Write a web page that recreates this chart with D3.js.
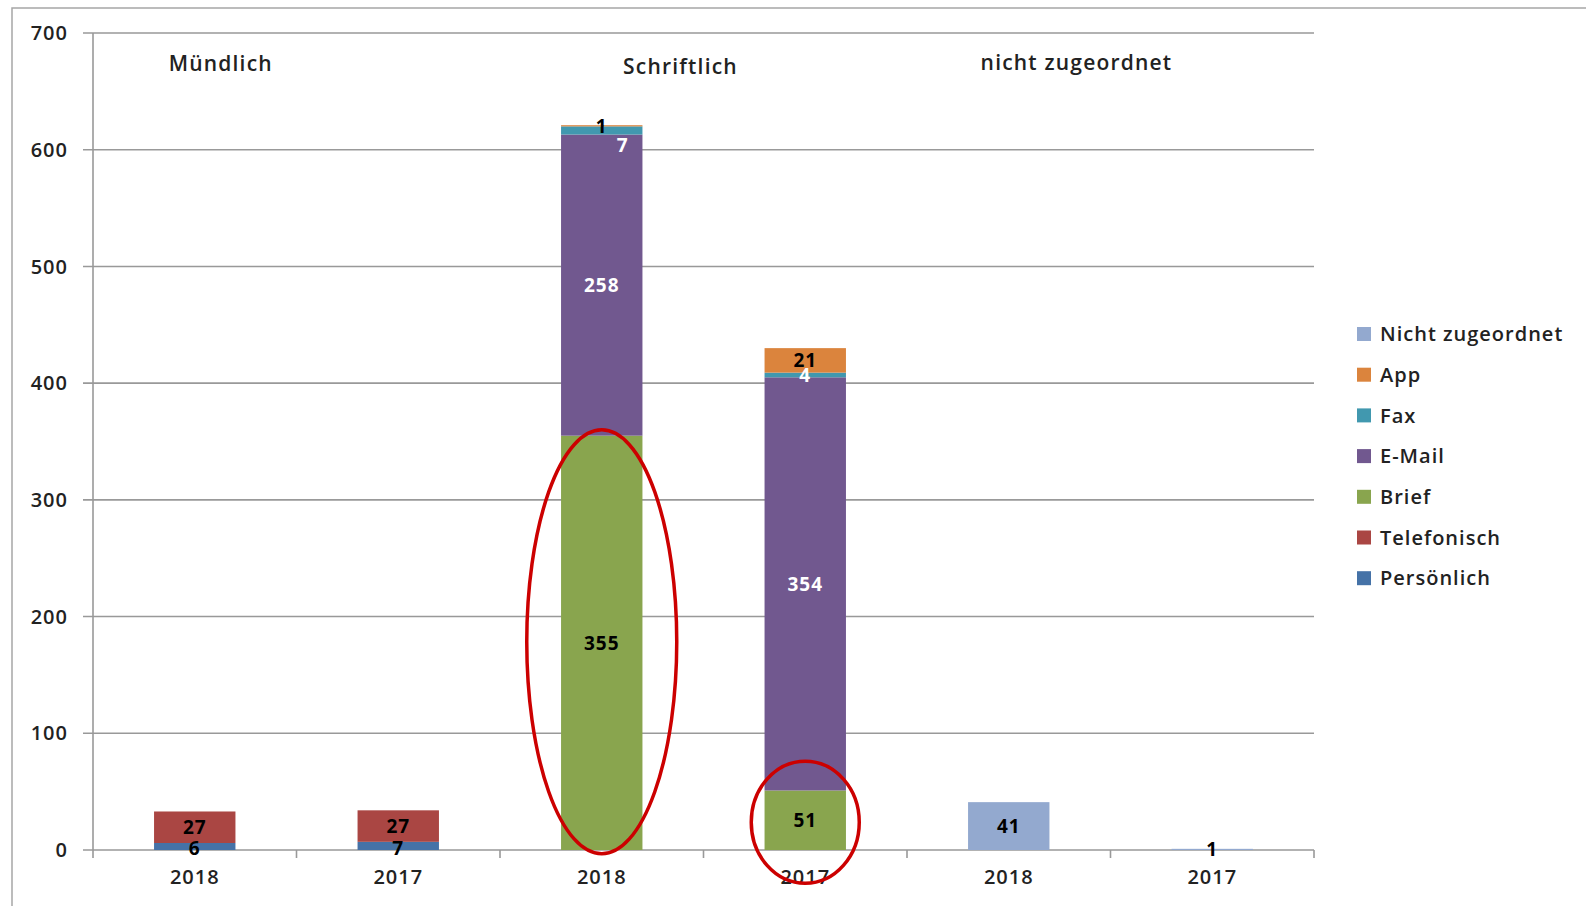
<!DOCTYPE html>
<html><head><meta charset="utf-8">
<script src="https://cdn.jsdelivr.net/npm/d3@7"></script>
<style>
html,body{margin:0;padding:0;background:#fff;}
svg{display:block;font-family:"Open Sans",sans-serif;}
</style></head>
<body><svg id="c" width="1586" height="906"></svg>
<script>
// ---- data ----
const groups = ["Mündlich", "Schriftlich", "nicht zugeordnet"];
const categories = ["M2018", "M2017", "S2018", "S2017", "N2018", "N2017"];
const tickLabels = ["2018", "2017", "2018", "2017", "2018", "2017"];
const seriesNames = ["Persönlich", "Telefonisch", "Brief", "E-Mail", "Fax", "App", "Nicht zugeordnet"];
const seriesColors = ["#4572A7", "#AA4643", "#89A54E", "#71588F", "#4198AF", "#DB843D", "#93A9CF"];
const persoenlich = [6, 7, 0, 0, 0, 0];
const telefonisch = [27, 27, 0, 0, 0, 0];
const brief = [0, 0, 355, 51, 0, 0];
const email = [0, 0, 258, 354, 0, 0];
const fax = [0, 0, 7, 4, 0, 0];
const app = [0, 0, 1, 21, 0, 0];
const nichtZugeordnet = [0, 0, 0, 0, 41, 1];
const yTicks = [0, 100, 200, 300, 400, 500, 600, 700];

const seriesValues = [persoenlich, telefonisch, brief, email, fax, app, nichtZugeordnet];
const whiteLabelSeries = new Set(["E-Mail", "Fax"]);

// ---- layout ----
const svg = d3.select("#c");
const L = 93, R = 1314, T = 33, B = 850;
const TXT = "#222";

// outer frame
svg.append("rect").attr("x", 12).attr("y", 8).attr("width", 1600).attr("height", 950)
  .attr("fill", "none").attr("stroke", "#a6a6a6").attr("stroke-width", 1.5);

const x = d3.scaleBand().domain(categories).range([L, R]).paddingInner(0.6).paddingOuter(0.3);
const y = d3.scaleLinear().domain([0, 700]).range([B, T]);

// gridlines
svg.append("g").selectAll("line").data(yTicks).join("line")
  .attr("x1", L - 10).attr("x2", R).attr("y1", d => y(d)).attr("y2", d => y(d))
  .attr("stroke", "#999").attr("stroke-width", 1.6);

// y axis line
svg.append("line").attr("x1", L).attr("x2", L).attr("y1", T).attr("y2", B)
  .attr("stroke", "#999").attr("stroke-width", 1.6);

// y tick labels
svg.append("g").selectAll("text").data(yTicks).join("text")
  .attr("x", 68).attr("y", d => y(d)).attr("text-anchor", "end").attr("dy", "0.36em")
  .attr("font-size", 20).attr("font-weight", 600).attr("letter-spacing", 1)
  .attr("fill", TXT).text(d => d);

// x category boundary ticks
const step = x.step();
svg.append("g").selectAll("line").data(d3.range(categories.length + 1)).join("line")
  .attr("x1", i => L + i * step).attr("x2", i => L + i * step)
  .attr("y1", B).attr("y2", B + 8).attr("stroke", "#999").attr("stroke-width", 1.6);

// x labels
svg.append("g").selectAll("text").data(categories).join("text")
  .attr("x", d => x(d) + x.bandwidth() / 2).attr("y", 877).attr("dy", "0.36em")
  .attr("text-anchor", "middle").attr("font-size", 20).attr("font-weight", 600)
  .attr("letter-spacing", 1).attr("fill", TXT)
  .text((d, i) => tickLabels[i]);

// stacked data
const table = categories.map((c, i) => {
  const o = {cat: c};
  seriesNames.forEach((s, j) => o[s] = seriesValues[j][i]);
  return o;
});
const stack = d3.stack().keys(seriesNames)(table);

const gBars = svg.append("g");
stack.forEach((layer, j) => {
  gBars.append("g").attr("fill", seriesColors[j]).selectAll("rect")
    .data(layer.filter(d => d[1] - d[0] > 0)).join("rect")
    .attr("x", d => x(d.data.cat)).attr("width", x.bandwidth())
    .attr("y", d => y(d[1])).attr("height", d => y(d[0]) - y(d[1]));
});

// data labels
const gLab = svg.append("g");
stack.forEach((layer, j) => {
  const name = seriesNames[j];
  layer.filter(d => d[1] - d[0] > 0).forEach(d => {
    let cx = x(d.data.cat) + x.bandwidth() / 2;
    let cy = y((d[0] + d[1]) / 2);
    // Excel-style shift to avoid overlapping the small label above
    if (name === "Fax" && d.data.cat === "S2018") { cx += 21; cy += 15; }
    if (name === "Persönlich") { cy += 2; }
    gLab.append("text").attr("x", cx).attr("y", cy).attr("dy", "0.36em")
      .attr("text-anchor", "middle").attr("font-size", 19).attr("font-weight", "bold")
      .attr("letter-spacing", 1)
      .attr("fill", whiteLabelSeries.has(name) ? "#fff" : "#000")
      .text(d[1] - d[0]);
  });
});

// group titles
const groupPos = [
  {x: x("M2018") + x.bandwidth() / 2 + 26, y: 63},
  {x: (x("S2018") + x("S2017") + x.bandwidth()) / 2 - 23, y: 66},
  {x: (x("N2018") + x("N2017") + x.bandwidth()) / 2 - 34, y: 62}
];
svg.append("g").selectAll("text").data(groups).join("text")
  .attr("x", (d, i) => groupPos[i].x).attr("y", (d, i) => groupPos[i].y).attr("dy", "0.36em")
  .attr("text-anchor", "middle").attr("font-size", 21).attr("font-weight", 600)
  .attr("letter-spacing", 1.2).attr("fill", TXT).text(d => d);

// red ellipses (annotations)
const s2018 = table.find(d => d.cat === "S2018");
const s2017 = table.find(d => d.cat === "S2017");
svg.append("ellipse")
  .attr("cx", x("S2018") + x.bandwidth() / 2).attr("cy", y(s2018["Brief"] / 2) - 1)
  .attr("rx", 75).attr("ry", 212)
  .attr("fill", "none").attr("stroke", "#cc0000").attr("stroke-width", 3.5);
svg.append("ellipse")
  .attr("cx", x("S2017") + x.bandwidth() / 2).attr("cy", y(s2017["Brief"] / 2) + 2)
  .attr("rx", 54).attr("ry", 61)
  .attr("fill", "none").attr("stroke", "#cc0000").attr("stroke-width", 3.5);

// legend
const legendOrder = seriesNames.map((s, j) => j).reverse();
const lg = svg.append("g");
legendOrder.forEach((j, k) => {
  const cy = 334 + k * 40.7;
  lg.append("rect").attr("x", 1357).attr("y", cy - 7).attr("width", 14).attr("height", 14)
    .attr("fill", seriesColors[j]);
  lg.append("text").attr("x", 1380).attr("y", cy).attr("dy", "0.36em")
    .attr("font-size", 20).attr("font-weight", 600).attr("letter-spacing", 1)
    .attr("fill", TXT).text(seriesNames[j]);
});
</script>
</body></html>
